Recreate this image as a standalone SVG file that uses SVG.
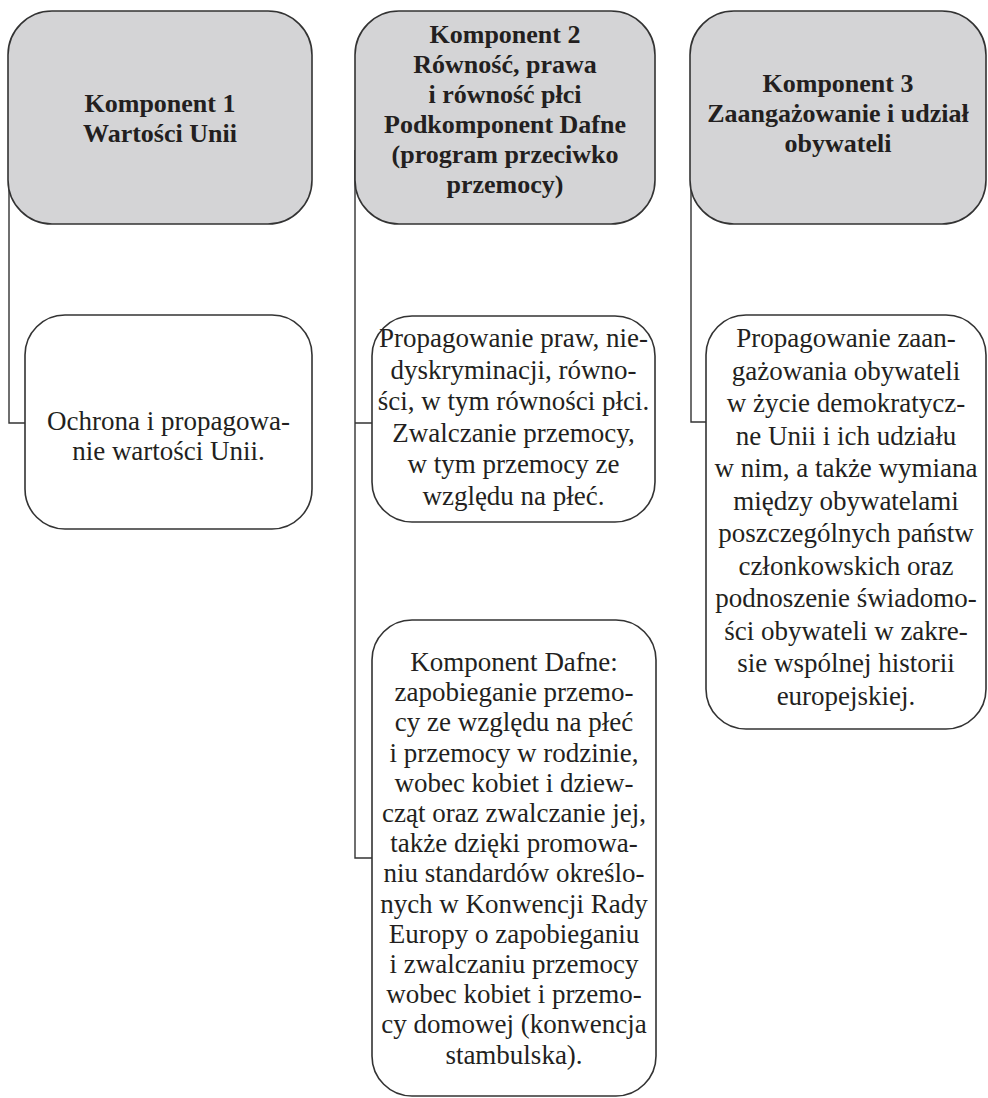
<svg xmlns="http://www.w3.org/2000/svg" width="988" height="1098" viewBox="0 0 988 1098">
  <style>
    .head { fill: #d4d4d6; stroke: #333333; stroke-width: 1.6; }
    .item { fill: #ffffff; stroke: #333333; stroke-width: 1.6; }
    .link { fill: none; stroke: #333333; stroke-width: 1.4; }
    text { fill: #231f20; font-family: "Liberation Serif", "Times New Roman", serif; text-anchor: middle; }
    .ht { font-size: 26px; font-weight: bold; }
    .bt { font-size: 27px; }
  </style>
  <rect width="988" height="1098" fill="#ffffff"/>

  <!-- tree lines from each component down to its items -->
  <g id="connectors">
    <path class="link" d="M9,150 V423 H25"/>
    <path class="link" d="M355,150 V858 H372 M355,423 H372"/>
    <path class="link" d="M691,150 V422 H706"/>
  </g>

  <g id="komponent1">
    <rect class="head" x="8" y="11" width="304" height="213" rx="44" ry="44"/>
    <text class="ht" x="160" y="112">Komponent 1</text>
    <text class="ht" x="160" y="142">Wartości Unii</text>
  </g>

  <g id="komponent2">
    <rect class="head" x="355" y="11" width="300" height="213" rx="44" ry="44"/>
    <text class="ht" x="505" y="43">Komponent 2</text>
    <text class="ht" x="505" y="73">Równość, prawa</text>
    <text class="ht" x="505" y="103">i równość płci</text>
    <text class="ht" x="505" y="133">Podkomponent Dafne</text>
    <text class="ht" x="505" y="163">(program przeciwko</text>
    <text class="ht" x="505" y="193">przemocy)</text>
  </g>

  <g id="komponent3">
    <rect class="head" x="690" y="11" width="296" height="213" rx="44" ry="44"/>
    <text class="ht" x="838" y="92">Komponent 3</text>
    <text class="ht" x="838" y="122">Zaangażowanie i udział</text>
    <text class="ht" x="838" y="152">obywateli</text>
  </g>

  <g id="wartosci">
    <rect class="item" x="25" y="315" width="287" height="214" rx="40" ry="40"/>
    <text class="bt" x="168.5" y="430">Ochrona i propagowa-</text>
    <text class="bt" x="168.5" y="460">nie wartości Unii.</text>
  </g>

  <g id="rownosc">
    <rect class="item" x="372" y="316" width="283" height="206" rx="40" ry="40"/>
    <text class="bt" x="513.5" y="347">Propagowanie praw, nie-</text>
    <text class="bt" x="513.5" y="378.5">dyskryminacji, równo-</text>
    <text class="bt" x="513.5" y="410">ści, w tym równości płci.</text>
    <text class="bt" x="513.5" y="441.5">Zwalczanie przemocy,</text>
    <text class="bt" x="513.5" y="473">w tym przemocy ze</text>
    <text class="bt" x="513.5" y="504.5">względu na płeć.</text>
  </g>

  <g id="dafne">
    <rect class="item" x="372" y="620" width="284" height="476" rx="40" ry="40"/>
    <text class="bt" x="514" y="671">Komponent Dafne:</text>
    <text class="bt" x="514" y="701.2">zapobieganie przemo-</text>
    <text class="bt" x="514" y="731.4">cy ze względu na płeć</text>
    <text class="bt" x="514" y="761.6">i przemocy w rodzinie,</text>
    <text class="bt" x="514" y="791.8">wobec kobiet i dziew-</text>
    <text class="bt" x="514" y="822">cząt oraz zwalczanie jej,</text>
    <text class="bt" x="514" y="852.2">także dzięki promowa-</text>
    <text class="bt" x="514" y="882.4">niu standardów określo-</text>
    <text class="bt" x="514" y="912.6">nych w Konwencji Rady</text>
    <text class="bt" x="514" y="942.8">Europy o zapobieganiu</text>
    <text class="bt" x="514" y="973">i zwalczaniu przemocy</text>
    <text class="bt" x="514" y="1003.2">wobec kobiet i przemo-</text>
    <text class="bt" x="514" y="1033.4">cy domowej (konwencja</text>
    <text class="bt" x="514" y="1063.6">stambulska).</text>
  </g>

  <g id="zaangazowanie">
    <rect class="item" x="706" y="315" width="280" height="414" rx="40" ry="40"/>
    <text class="bt" x="846" y="347">Propagowanie zaan-</text>
    <text class="bt" x="846" y="379.5">gażowania obywateli</text>
    <text class="bt" x="846" y="412">w życie demokratycz-</text>
    <text class="bt" x="846" y="444.5">ne Unii i ich udziału</text>
    <text class="bt" x="846" y="477">w nim, a także wymiana</text>
    <text class="bt" x="846" y="509.5">między obywatelami</text>
    <text class="bt" x="846" y="542">poszczególnych państw</text>
    <text class="bt" x="846" y="574.5">członkowskich oraz</text>
    <text class="bt" x="846" y="607">podnoszenie świadomo-</text>
    <text class="bt" x="846" y="639.5">ści obywateli w zakre-</text>
    <text class="bt" x="846" y="672">sie wspólnej historii</text>
    <text class="bt" x="846" y="704.5">europejskiej.</text>
  </g>
</svg>
